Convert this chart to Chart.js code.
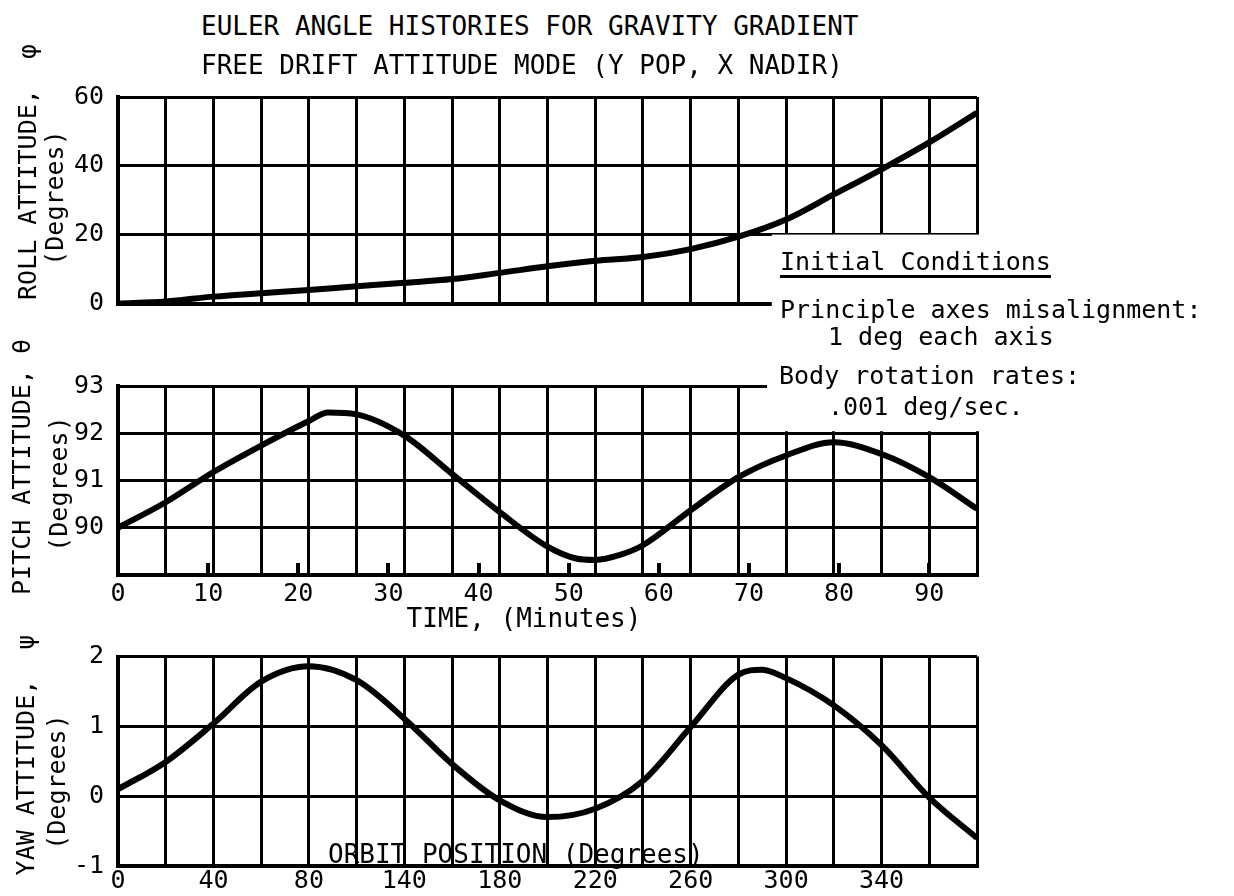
<!DOCTYPE html>
<html>
<head>
<meta charset="utf-8">
<script src="https://cdn.jsdelivr.net/npm/chart.js@4.4.0/dist/chart.umd.min.js"></script>
<style>
  body { margin: 0; background: #fff; }
  #page { position: relative; width: 1234px; height: 896px; overflow: hidden;
          font-family: 'DejaVu Sans Mono', monospace; color: #000; }
  canvas { position: absolute; left: 0; }
  .txt { position: absolute; font-size: 25px; line-height: 30px; white-space: pre; }
  .rot { position: absolute; font-size: 25px; line-height: 30px; white-space: pre;
         transform: translate(-50%, -50%) rotate(-90deg); }
</style>
</head>
<body>
<div id="page">
  <canvas id="rollChart" width="1000" height="270" style="top:60px"></canvas>
  <canvas id="pitchChart" width="1000" height="300" style="top:340px"></canvas>
  <canvas id="yawChart" width="1000" height="266" style="top:630px"></canvas>

  <div class="txt" style="left:201px; top:11px; font-size:26px">EULER ANGLE HISTORIES FOR GRAVITY GRADIENT</div>
  <div class="txt" style="left:201px; top:50px; font-size:26px">FREE DRIFT ATTITUDE MODE (Y POP, X NADIR)</div>

  <div class="rot" style="left:28px; top:172px">ROLL ATTITUDE,  φ</div>
  <div class="rot" style="left:55px; top:198px">(Degrees)</div>
  <div class="rot" style="left:22px; top:467px">PITCH ATTITUDE, θ</div>
  <div class="rot" style="left:59px; top:484px">(Degrees)</div>
  <div class="rot" style="left:26px; top:755px">YAW ATTITUDE,  ψ</div>
  <div class="rot" style="left:57px; top:782px">(Degrees)</div>

  <div class="txt" style="left:780px; top:247px; text-decoration:underline; text-decoration-thickness:3px; text-underline-offset:5px">Initial Conditions</div>
  <div class="txt" style="left:780px; top:295px">Principle axes misalignment:</div>
  <div class="txt" style="left:828px; top:322px">1 deg each axis</div>
  <div class="txt" style="left:779px; top:361px">Body rotation rates:</div>
  <div class="txt" style="left:828px; top:392px">.001 deg/sec.</div>

  <div class="txt" style="left:328px; top:839px; font-size:26px">ORBIT POSITION (Degrees)</div>
</div>

<script>
const INK = '#000';

// one orbit (360 deg) takes this many minutes
const orbitMinutes = 95.3;

// Roll attitude vs orbit position
const rollDeg = [0, 20, 40, 60, 80, 100, 120, 140, 160, 180, 200, 220, 240, 260, 280, 300, 320, 340, 360];
const rollVal = [0, 0.6, 2.0, 3.0, 3.9, 5.0, 6.0, 7.1, 8.9, 10.8, 12.4, 13.5, 15.8, 19.4, 24.4, 31.7, 39.0, 46.8, 55.4];

// Pitch attitude vs orbit position
const pitchDeg = [0, 20, 40, 60, 80, 88, 100, 120, 140, 160, 180, 192, 200, 210, 220, 240, 260, 280, 300, 320, 340, 360];
const pitchVal = [90.0, 90.54, 91.18, 91.74, 92.26, 92.44, 92.40, 91.95, 91.14, 90.33, 89.6, 89.35, 89.32, 89.42, 89.63, 90.37, 91.07, 91.53, 91.81, 91.56, 91.07, 90.40];

// Yaw attitude vs orbit position
const yawDeg = [0, 20, 40, 60, 80, 100, 120, 140, 160, 180, 200, 220, 240, 260, 270, 280, 300, 320, 340, 360];
const yawVal = [0.10, 0.49, 1.04, 1.64, 1.86, 1.66, 1.11, 0.46, -0.06, -0.30, -0.18, 0.22, 0.99, 1.74, 1.81, 1.69, 1.30, 0.73, -0.02, -0.60];

// Tick labels
const timeTicks = [0, 10, 20, 30, 40, 50, 60, 70, 80, 90];
const orbitTickPos = [0, 40, 80, 120, 160, 200, 240, 280, 320];
const orbitTickLabels = ['0', '40', '80', '140', '180', '220', '260', '300', '340'];

Chart.defaults.font.family = "'DejaVu Sans Mono', monospace";
Chart.defaults.color = INK;

const toPoints = (xs, ys) => xs.map((x, i) => ({ x, y: ys[i] }));

// white patch where the "Initial Conditions" note sits over a panel corner
const noteCover = {
  id: 'noteCover',
  beforeDatasetsDraw(chart, args, opts) {
    if (opts.fromDeg == null) return;
    const { ctx, chartArea: a, scales } = chart;
    const x0 = scales.x.getPixelForValue(opts.fromDeg);
    const yv = scales.y.getPixelForValue(opts.value);
    ctx.save();
    ctx.fillStyle = '#fff';
    if (opts.side === 'bottom') {
      ctx.fillRect(x0, yv + 2, a.right + 8 - x0, a.bottom + 8 - yv - 2);
    } else {
      ctx.fillRect(x0, a.top - 8, a.right + 8 - x0, yv - 2 - a.top + 8);
    }
    ctx.restore();
  }
};

function gridAxis() {
  return {
    type: 'linear', position: 'bottom', min: 0, max: 360, weight: 0,
    ticks: { stepSize: 20, display: false },
    grid: { color: INK, lineWidth: 3, drawTicks: false },
    border: { color: INK, width: 4 },
    afterFit: s => { s.height = 0; }
  };
}

function yAxis(min, max, step, hideMin) {
  return {
    min, max,
    afterFit: s => { s.width = 118; },
    ticks: {
      stepSize: step, padding: 14,
      font: { size: 25, lineHeight: 1 },
      callback: v => (hideMin && v === min) ? '' : v
    },
    grid: { color: INK, lineWidth: 3, drawTicks: false },
    border: { color: INK, width: 4 }
  };
}

function lineSet(xs, ys) {
  return {
    data: toPoints(xs, ys), xAxisID: 'x', yAxisID: 'y',
    borderColor: INK, borderWidth: 6, pointRadius: 0,
    cubicInterpolationMode: 'monotone', fill: false
  };
}

const baseOptions = {
  responsive: false, animation: false,
  plugins: { legend: { display: false }, tooltip: { enabled: false } }
};

// Roll panel
new Chart(document.getElementById('rollChart'), {
  type: 'line',
  data: { datasets: [lineSet(rollDeg, rollVal)] },
  plugins: [noteCover],
  options: {
    ...baseOptions,
    layout: { padding: { top: 37, right: 23, bottom: 15, left: 0 } },
    plugins: { ...baseOptions.plugins, noteCover: { fromDeg: 274, value: 20.6, side: 'bottom' } },
    scales: { x: gridAxis(), y: yAxis(0, 60, 20, false) }
  }
});

// Pitch panel, with time axis underneath
new Chart(document.getElementById('pitchChart'), {
  type: 'line',
  data: { datasets: [lineSet(pitchDeg, pitchVal)] },
  plugins: [noteCover],
  options: {
    ...baseOptions,
    layout: { padding: { top: 46, right: 23, bottom: 0, left: 0 } },
    plugins: { ...baseOptions.plugins, noteCover: { fromDeg: 272, value: 92, side: 'top' } },
    scales: {
      x: gridAxis(),
      xt: {
        type: 'linear', position: 'bottom', min: 0, max: orbitMinutes, weight: 1,
        afterBuildTicks: s => { s.ticks = timeTicks.map(v => ({ value: v })); },
        afterFit: s => { s.height = 65; },
        ticks: { padding: 19, font: { size: 25, lineHeight: 1 }, maxRotation: 0, autoSkip: false },
        grid: { display: true, drawOnChartArea: false, drawTicks: true, tickLength: -12, color: INK, lineWidth: 4 },
        border: { display: false },
        title: { display: true, text: 'TIME, (Minutes)   ', font: { size: 26, lineHeight: 1.2 }, padding: { top: 0, bottom: 4 } }
      },
      y: yAxis(89, 93, 1, true)
    }
  }
});

// Yaw panel, with orbit position axis underneath
new Chart(document.getElementById('yawChart'), {
  type: 'line',
  data: { datasets: [lineSet(yawDeg, yawVal)] },
  options: {
    ...baseOptions,
    layout: { padding: { top: 18, right: 23, bottom: 0, left: 0 } },
    scales: {
      x: gridAxis(),
      xl: {
        type: 'linear', position: 'bottom', min: 0, max: 360, weight: 1,
        afterBuildTicks: s => { s.ticks = orbitTickPos.map(v => ({ value: v })); },
        afterFit: s => { s.height = 30; },
        ticks: { padding: 3, font: { size: 25, lineHeight: 1 }, maxRotation: 0, autoSkip: false,
                 callback: (v, i) => orbitTickLabels[i] },
        grid: { display: false, drawTicks: false },
        border: { display: false }
      },
      y: yAxis(-1, 2, 1, false)
    }
  }
});
</script>
</body>
</html>
